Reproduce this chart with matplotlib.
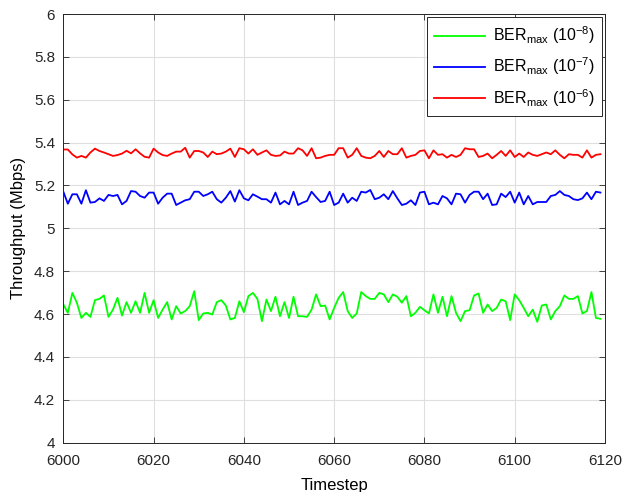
import numpy as np
import matplotlib.pyplot as plt
from matplotlib.ticker import FuncFormatter

plt.rcParams['font.family'] = ['Liberation Sans', 'DejaVu Sans']
plt.rcParams['mathtext.fontset'] = 'custom'
plt.rcParams['mathtext.rm'] = 'Liberation Sans'
plt.rcParams['mathtext.it'] = 'Liberation Sans:italic'

# valores (timestep 5999..6119, o primeiro fica fora do eixo)
t_start = 5999

red = [5.29, 5.368, 5.368, 5.345, 5.330, 5.338, 5.330, 5.354, 5.372, 5.361,
       5.354, 5.346, 5.338, 5.342, 5.349, 5.362, 5.350, 5.369, 5.350, 5.334,
       5.330, 5.372, 5.354, 5.342, 5.338, 5.349, 5.358, 5.358, 5.376, 5.330,
       5.361, 5.361, 5.354, 5.333, 5.358, 5.346, 5.349, 5.358, 5.372, 5.333,
       5.374, 5.369, 5.349, 5.369, 5.343, 5.354, 5.364, 5.343, 5.338, 5.340,
       5.358, 5.349, 5.349, 5.374, 5.364, 5.338, 5.374, 5.327, 5.330, 5.338,
       5.343, 5.343, 5.374,
       5.374, 5.330, 5.343, 5.374, 5.338, 5.330, 5.327, 5.338, 5.361, 5.333,
       5.361, 5.346, 5.346, 5.374, 5.330, 5.338, 5.343, 5.361, 5.364, 5.327,
       5.364, 5.343, 5.346, 5.330, 5.343, 5.333, 5.343, 5.374, 5.369, 5.369,
       5.333,
       5.338, 5.349, 5.327, 5.343, 5.361, 5.338, 5.364, 5.333, 5.349, 5.333,
       5.354, 5.343, 5.338, 5.346, 5.354, 5.346, 5.364, 5.343, 5.327, 5.346,
       5.343, 5.343, 5.330, 5.364, 5.330, 5.343, 5.346]

blue = [5.105,
        5.171, 5.115, 5.159, 5.159, 5.115, 5.178, 5.120, 5.123, 5.140, 5.128,
        5.156, 5.151, 5.156, 5.112, 5.128, 5.174, 5.171, 5.151, 5.143, 5.167,
        5.167, 5.115, 5.143, 5.162, 5.162, 5.109, 5.120, 5.131, 5.136,
        5.171, 5.171, 5.151, 5.159, 5.171, 5.136, 5.120, 5.143, 5.174, 5.125,
        5.178, 5.140, 5.131, 5.159, 5.148, 5.136, 5.136, 5.120, 5.167, 5.112,
        5.128, 5.112, 5.171, 5.109, 5.120, 5.128, 5.171, 5.146, 5.123, 5.128,
        5.171, 5.109, 5.120,
        5.162, 5.120, 5.143, 5.128, 5.171, 5.167, 5.179, 5.136, 5.143, 5.159,
        5.136, 5.174, 5.140, 5.109, 5.115, 5.131, 5.109, 5.167, 5.171, 5.112,
        5.120, 5.112, 5.151, 5.140, 5.112, 5.162, 5.159, 5.120, 5.156, 5.171,
        5.171,
        5.136, 5.162, 5.109, 5.112, 5.162, 5.146, 5.171, 5.120, 5.167, 5.112,
        5.151, 5.112, 5.123, 5.123, 5.123, 5.151, 5.156, 5.174, 5.156, 5.151,
        5.136, 5.132, 5.140, 5.167, 5.136, 5.171, 5.167]

green = [4.578,
         4.645, 4.606, 4.699, 4.653, 4.582, 4.606, 4.587, 4.665, 4.671, 4.687,
         4.587, 4.621, 4.676, 4.593, 4.656, 4.606, 4.660, 4.606, 4.699, 4.606,
         4.665, 4.582, 4.621, 4.656, 4.575, 4.637, 4.603, 4.614, 4.637, 4.707,
         4.572, 4.603, 4.606, 4.598, 4.656, 4.665, 4.640, 4.575, 4.582, 4.660,
         4.609, 4.684, 4.699, 4.671, 4.567, 4.668, 4.614, 4.681, 4.590, 4.656,
         4.582, 4.681, 4.590, 4.590, 4.587, 4.621, 4.692, 4.637, 4.640, 4.575,
         4.629, 4.676,
         4.703, 4.614, 4.582, 4.603, 4.703, 4.684, 4.671, 4.671, 4.699, 4.692,
         4.656, 4.692, 4.681, 4.653, 4.684, 4.590, 4.606, 4.634, 4.618, 4.603,
         4.692, 4.606, 4.681, 4.590, 4.684, 4.606, 4.567, 4.614, 4.618, 4.687,
         4.696,
         4.606, 4.645, 4.614, 4.629, 4.668, 4.660, 4.572, 4.692, 4.665, 4.629,
         4.590, 4.621, 4.564, 4.640, 4.645, 4.575, 4.614, 4.637, 4.687, 4.671,
         4.671, 4.684, 4.603, 4.614, 4.703, 4.582, 4.578]

labels = [r'BER$_{\mathrm{max}}$ (10$^{\mathrm{-8}}$)',
          r'BER$_{\mathrm{max}}$ (10$^{\mathrm{-7}}$)',
          r'BER$_{\mathrm{max}}$ (10$^{\mathrm{-6}}$)']

t = t_start + np.arange(len(red))

fig = plt.figure(figsize=(6.24, 4.92), dpi=100)
ax = fig.add_axes([0.1015, 0.1002, 0.868, 0.8713])

ax.plot(t, green, color=(0, 1, 0), lw=1.3, label=labels[0])
ax.plot(t, blue, color=(0, 0, 1), lw=1.3, label=labels[1])
ax.plot(t, red, color=(1, 0, 0), lw=1.3, label=labels[2])

ax.set_xlim(6000, 6120)
ax.set_ylim(4, 6)
ax.set_xticks(np.arange(6000, 6121, 20))
ax.set_yticks(np.arange(4, 6.01, 0.2))
ax.yaxis.set_major_formatter(FuncFormatter(lambda v, p: '%g' % round(v, 1)))
ax.tick_params(direction='in', top=True, right=True, labelsize=11,
               length=4, width=0.6, colors='#262626')
ax.tick_params(axis='x', pad=8)
ax.tick_params(axis='y', pad=6)
ax.grid(True, color='#dfdfdf', lw=0.8)
ax.set_axisbelow(True)
for s in ax.spines.values():
    s.set_color('#262626')
    s.set_linewidth(0.7)

ax.set_xlabel('Timestep', fontsize=12, labelpad=7)
ax.set_ylabel('Throughput (Mbps)', fontsize=12, labelpad=6)

leg = ax.legend(loc='upper right', fontsize=11.5, fancybox=False,
                edgecolor='#262626', framealpha=1, borderaxespad=0.2,
                handlelength=3.2, labelspacing=0.6, borderpad=0.45,
                handletextpad=0.45)
leg.get_frame().set_linewidth(0.7)

fig.savefig('out.png', dpi=100)
